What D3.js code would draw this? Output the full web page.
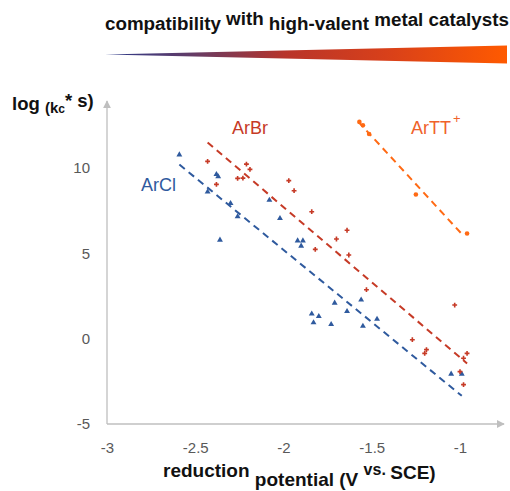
<!DOCTYPE html>
<html lang="en">
<head>
<meta charset="UTF-8">
<title>Reduction potential</title>
<script src="https://d3js.org/d3.v7.min.js"></script>
<style>
    body { margin: 0; background: #fff; }
    .tick text { fill: #595959; font: 15px "Liberation Sans", Arial, sans-serif; }
    .ttl { font-family: "Liberation Sans", Arial, sans-serif; font-weight: bold; fill: #111; }
    .lbl { font: 18px "Liberation Sans", Arial, sans-serif; }
</style>
</head>
<body>
<div id="chart"></div>
<script>
// ticks
var xTicks = [-3, -2.5, -2, -1.5, -1];
var yTicks = [-5, 0, 5, 10];

// ArCl (blue triangles)
var arclX = [-2.59, -2.38, -2.37, -2.43, -2.30, -2.26, -2.36, -2.08, -2.02, -1.92, -1.89, -1.90,
             -1.84, -1.80, -1.83, -1.73, -1.71, -1.64, -1.56, -1.55, -1.47, -1.05, -0.99];
var arclY = [10.78, 9.63, 9.50, 8.60, 7.93, 7.15, 5.78, 8.12, 7.05, 5.74, 5.74, 5.43,
             1.45, 1.31, 0.94, 0.84, 2.09, 1.60, 2.27, 0.74, 1.15, -2.07, -2.07];
var arclFit = [[-2.59, 10.2], [-0.99, -3.35]];

// ArBr (red)
var arbrX = [-2.43, -2.21, -2.19, -2.26, -2.23, -2.38, -1.97, -1.94, -1.84, -1.64, -1.70,
             -1.82, -1.63, -1.53, -1.03, -1.27, -1.19, -1.20, -0.96, -0.98, -1.00, -0.98];
var arbrY = [10.39, 10.23, 9.92, 9.39, 9.41, 9.04, 9.26, 8.67, 7.44, 6.35, 5.84,
             5.23, 4.90, 2.87, 1.97, -0.06, -0.64, -0.86, -0.86, -1.15, -1.93, -2.69];
var arbrFit = [[-2.43, 11.5], [-0.96, -1.45]];

// ArTT+ (orange circles)
var arttX = [-1.57, -1.55, -1.515, -1.25, -0.96];
var arttY = [12.70, 12.50, 11.99, 8.45, 6.16];
var arttFit = [[-1.576, 12.71], [-0.977, 5.99]];

var blue = "#2F5A9E", red = "#C63A26", orange = "#FF6A14";

var width = 510, height = 491;

var svg = d3.select("#chart").append("svg")
    .attr("width", width)
    .attr("height", height);

var x = d3.scaleLinear().domain([-3, -1]).range([107, 460]);
var y = d3.scaleLinear().domain([-5, 10]).range([424, 168]);

// arrowheads
var defs = svg.append("defs");
defs.append("marker")
    .attr("id", "arrow")
    .attr("viewBox", "0 0 10 10")
    .attr("refX", 9).attr("refY", 5)
    .attr("markerWidth", 8).attr("markerHeight", 8)
    .attr("markerUnits", "userSpaceOnUse")
    .attr("orient", "auto")
    .append("path")
    .attr("d", "M0,0L10,5L0,10Z")
    .attr("fill", "#BFBFBF");

var grad = defs.append("linearGradient")
    .attr("id", "wedge")
    .attr("x1", "0%").attr("x2", "100%").attr("y1", "0%").attr("y2", "0%");
grad.append("stop").attr("offset", "0%").attr("stop-color", "#2B3A8A");
grad.append("stop").attr("offset", "20%").attr("stop-color", "#5E3C6A");
grad.append("stop").attr("offset", "45%").attr("stop-color", "#B8342A");
grad.append("stop").attr("offset", "70%").attr("stop-color", "#D8401A");
grad.append("stop").attr("offset", "100%").attr("stop-color", "#FF5A00");

// header
var head = svg.append("text").attr("class", "ttl")
    .attr("x", 105).attr("y", 30)
    .style("font-size", "18.8px");
head.append("tspan").text("compatibility ");
head.append("tspan").attr("dy", -5).text("with ");
head.append("tspan").attr("dy", 5).text("high-valent ");
head.append("tspan").attr("dy", -4).text("metal catalysts");

svg.append("path")
    .attr("d", "M105,54.5L507,45.5L507,63.5Z")
    .attr("fill", "url(#wedge)");

// axes
var xAxis = d3.axisBottom(x).tickValues(xTicks).tickSize(0).tickPadding(18)
    .tickFormat(function(d) { return String(d); });
var yAxis = d3.axisLeft(y).tickValues(yTicks).tickSize(0).tickPadding(17)
    .tickFormat(function(d) { return String(d); });

svg.append("g").attr("transform", "translate(0,424)").call(xAxis)
    .call(function(g) { g.select(".domain").remove(); });
svg.append("g").attr("transform", "translate(107,0)").call(yAxis)
    .call(function(g) { g.select(".domain").remove(); });

svg.append("line")
    .attr("x1", 107).attr("y1", 424).attr("x2", 504).attr("y2", 424)
    .attr("stroke", "#BFBFBF").attr("stroke-width", 1.3)
    .attr("marker-end", "url(#arrow)");
svg.append("line")
    .attr("x1", 107).attr("y1", 424).attr("x2", 107).attr("y2", 101)
    .attr("stroke", "#BFBFBF").attr("stroke-width", 1.3)
    .attr("marker-end", "url(#arrow)");

// axis titles
var yt = svg.append("text").attr("class", "ttl").attr("x", 12).attr("y", 110)
    .style("font-size", "18.5px");
yt.append("tspan").text("log ");
yt.append("tspan").attr("dy", 3).style("font-size", "15px").text("(k");
yt.append("tspan").style("font-size", "12px").text("c");
yt.append("tspan").attr("dy", -6).text("* s)");

var xt = svg.append("text").attr("class", "ttl").attr("x", 163).attr("y", 477)
    .style("font-size", "19px");
xt.append("tspan").text("reduction ");
xt.append("tspan").attr("dy", 9).text("potential (V ");
xt.append("tspan").attr("dy", -11).style("font-size", "16px").text("vs. ");
xt.append("tspan").attr("dy", 4).text("SCE)");

// trend lines
var line = d3.line().x(function(d) { return x(d[0]); }).y(function(d) { return y(d[1]); });
[[arclFit, blue], [arbrFit, red], [arttFit, orange]].forEach(function(f) {
    svg.append("path")
        .attr("d", line(f[0]))
        .attr("fill", "none")
        .attr("stroke", f[1])
        .attr("stroke-width", 2)
        .attr("stroke-dasharray", "7,5");
});

// points
var tri = d3.symbol().type(d3.symbolTriangle).size(15);
svg.selectAll("path.arcl")
    .data(d3.range(arclX.length))
    .enter().append("path")
    .attr("class", "arcl")
    .attr("d", tri)
    .attr("transform", function(i) { return "translate(" + x(arclX[i]) + "," + y(arclY[i]) + ")"; })
    .attr("fill", blue);

var crs = d3.symbol().type(d3.symbolCross).size(13);
svg.selectAll("path.arbr")
    .data(d3.range(arbrX.length))
    .enter().append("path")
    .attr("class", "arbr")
    .attr("d", crs)
    .attr("transform", function(i) { return "translate(" + x(arbrX[i]) + "," + y(arbrY[i]) + ")"; })
    .attr("fill", red);

svg.selectAll("circle.artt")
    .data(d3.range(arttX.length))
    .enter().append("circle")
    .attr("class", "artt")
    .attr("cx", function(i) { return x(arttX[i]); })
    .attr("cy", function(i) { return y(arttY[i]); })
    .attr("r", 2.3)
    .attr("fill", orange);

// series labels
svg.append("text").attr("class", "lbl").attr("x", 232).attr("y", 134)
    .attr("fill", red).text("ArBr");
svg.append("text").attr("class", "lbl").attr("x", 141).attr("y", 191)
    .attr("fill", blue).text("ArCl");
var tt = svg.append("text").attr("class", "lbl").attr("x", 411).attr("y", 134)
    .attr("fill", "#F0622A");
tt.text("ArTT");
tt.append("tspan").attr("dx", 2).attr("dy", -11).style("font-size", "13px").text("+");
</script>
</body>
</html>
